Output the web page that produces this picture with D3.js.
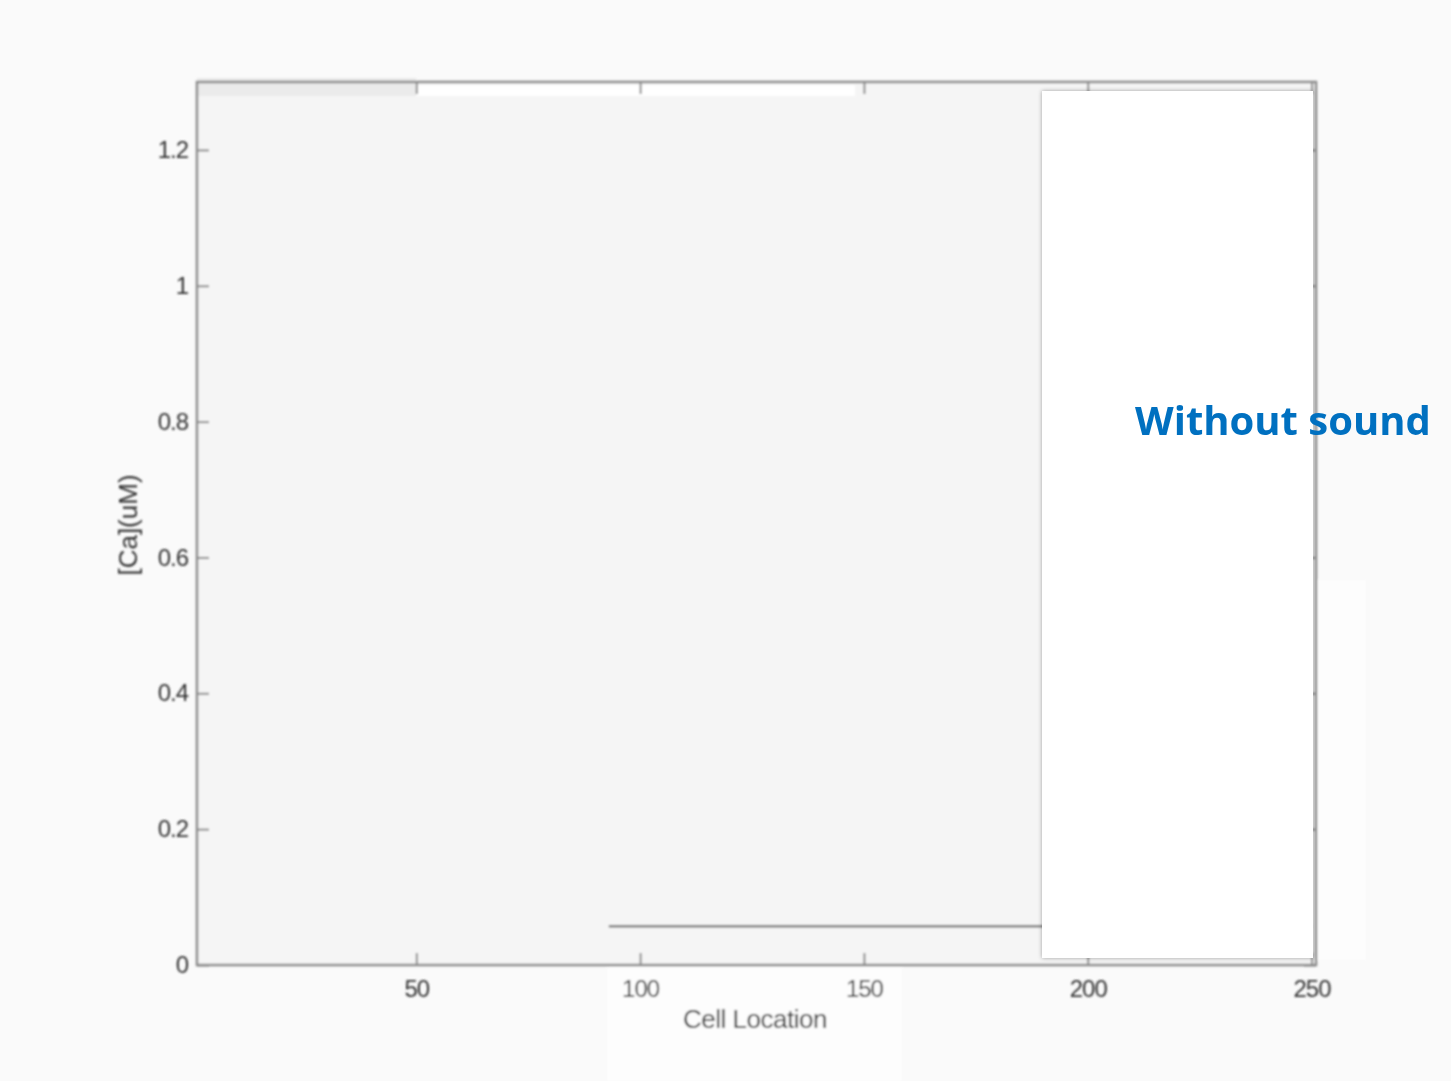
<!DOCTYPE html>
<html>
<head>
<meta charset="utf-8">
<script src="https://cdn.jsdelivr.net/npm/d3@7"></script>
<style>
  html, body { margin: 0; padding: 0; background: #fafafa; }
  svg { display: block; }
</style>
</head>
<body>
<svg id="chart" width="1451" height="1081"></svg>
<script>
// Calcium concentration along the cell row
const cellLocation = [93, 250];
const caConc = [0.057, 0.057];

const xTicks = [50, 100, 150, 200, 250];
const yTicks = [0, 0.2, 0.4, 0.6, 0.8, 1, 1.2];
const yTickLabels = ["0", "0.2", "0.4", "0.6", "0.8", "1", "1.2"];

const xLabel = "Cell Location";
const yLabel = "[Ca](uM)";
const note = "Without sound";

const W = 1451, H = 1081;
const svg = d3.select("#chart");

const x = d3.scaleLinear().domain([1, 251]).range([197, 1316]);
const y = d3.scaleLinear().domain([0, 1.3]).range([965, 82]);

const defs = svg.append("defs");
defs.append("filter").attr("id", "soft")
  .append("feGaussianBlur").attr("stdDeviation", 0.9);

svg.append("rect").attr("width", W).attr("height", H).attr("fill", "#fafafa");

const fig = svg.append("g").attr("filter", "url(#soft)");

// faint light patches around the axes
fig.append("rect").attr("x", 607).attr("y", 968).attr("width", 295).attr("height", 113).attr("fill", "#fdfdfd");
fig.append("rect").attr("x", 1318).attr("y", 580).attr("width", 48).attr("height", 380).attr("fill", "#fdfdfd");

// plot area
fig.append("rect")
  .attr("x", x(1)).attr("y", y(1.3))
  .attr("width", x(251) - x(1)).attr("height", y(0) - y(1.3))
  .attr("fill", "#f5f5f5");
fig.append("rect").attr("x", x(1)).attr("y", y(1.3) - 4).attr("width", x(50) - x(1)).attr("height", 18).attr("fill", "#ebebeb");
fig.append("rect").attr("x", x(50)).attr("y", y(1.3) + 3).attr("width", x(148) - x(50)).attr("height", 11).attr("fill", "#ffffff");

const axisColor = "#8a8a8a";
const tickFont = "Liberation Sans, Arial, sans-serif";

// box with inward ticks on all four sides (MATLAB style)
const ax = fig.append("g").attr("class", "axes");
ax.append("rect")
  .attr("x", x(1)).attr("y", y(1.3))
  .attr("width", x(251) - x(1)).attr("height", y(0) - y(1.3))
  .attr("fill", "none").attr("stroke", axisColor).attr("stroke-width", 2.5);

const xAxisB = d3.axisBottom(x).tickValues(xTicks).tickSizeInner(-12).tickSizeOuter(0).tickPadding(15);
const xAxisT = d3.axisTop(x).tickValues(xTicks).tickSizeInner(-12).tickSizeOuter(0).tickFormat("");
const yAxisL = d3.axisLeft(y).tickValues(yTicks).tickSizeInner(-12).tickSizeOuter(0).tickPadding(9)
  .tickFormat((d, i) => yTickLabels[i]);
const yAxisR = d3.axisRight(y).tickValues(yTicks).tickSizeInner(-12).tickSizeOuter(0).tickFormat("");

function styleAxis(g) {
  g.select(".domain").remove();
  g.selectAll(".tick line").attr("stroke", axisColor).attr("stroke-width", 2);
  g.selectAll(".tick text").attr("fill", "#333333")
    .attr("font-family", tickFont).attr("font-size", 24)
    .attr("letter-spacing", -1);
}
ax.append("g").attr("transform", `translate(0,${y(0)})`).call(xAxisB).call(styleAxis);
ax.append("g").attr("transform", `translate(0,${y(1.3)})`).call(xAxisT).call(styleAxis);
ax.append("g").attr("transform", `translate(${x(1)},0)`).call(yAxisL).call(styleAxis);
ax.append("g").attr("transform", `translate(${x(251)},0)`).call(yAxisR).call(styleAxis);

// data line
fig.append("path")
  .datum(cellLocation.map((c, i) => [c, caConc[i]]))
  .attr("fill", "none").attr("stroke", "#7a7a7a").attr("stroke-width", 2.5)
  .attr("d", d3.line().x(d => x(d[0])).y(d => y(d[1])));

// axis titles
fig.append("text")
  .attr("x", 755).attr("y", 1028)
  .attr("text-anchor", "middle")
  .attr("font-family", tickFont).attr("font-size", 26).attr("fill", "#333333")
  .attr("letter-spacing", -0.5)
  .text(xLabel);
fig.append("text")
  .attr("transform", "translate(137,525) rotate(-90)")
  .attr("text-anchor", "middle")
  .attr("font-family", tickFont).attr("font-size", 26).attr("fill", "#333333")
  .text(yLabel);

// white panel over the right part of the plot
svg.append("rect")
  .attr("x", 1042).attr("y", 91).attr("width", 271).attr("height", 867)
  .attr("fill", "#ffffff")
  .style("filter", "drop-shadow(0px 0px 2px rgba(0,0,0,0.35))");

// annotation
svg.append("text")
  .attr("x", 1135).attr("y", 435)
  .attr("font-family", "Open Sans, Lato, sans-serif")
  .attr("font-weight", 700).attr("font-size", 40)
  .attr("fill", "#0070c0")
  .text(note);
</script>
</body>
</html>
